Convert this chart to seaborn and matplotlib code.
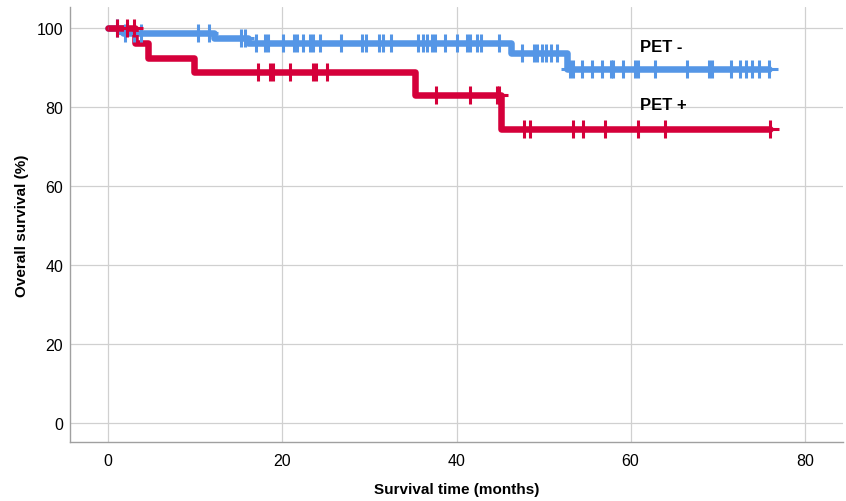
import matplotlib
matplotlib.use("Agg")
import matplotlib.pyplot as plt
import numpy as np
import pandas as pd
import seaborn as sns

# PET - group: step times (months) and survival level (%) after each step
neg_times = [0, 1.7, 12.1, 16.1, 46.3, 52.7]
neg_surv = [100, 98.8, 97.5, 96.3, 93.8, 89.6]
neg_end = 75.9
neg_censor = [1.0, 1.9, 2.9, 3.8, 10.3, 11.6, 15.3, 15.7,
              17.0, 18.0, 18.3, 20.1, 21.3, 21.7, 22.4, 23.2, 23.5, 24.3,
              26.7, 29.2, 29.6, 31.1, 31.5, 32.5, 35.6, 36.1, 36.6, 37.2,
              37.5, 38.7, 40.0, 41.2, 41.6, 42.4, 42.8, 44.9,
              47.5, 48.9, 49.3, 49.8, 50.3, 50.9, 51.5,
              53.0, 53.4, 54.4, 55.6, 56.7, 57.7, 58.0, 59.1, 60.5, 60.8,
              62.8, 66.5, 69.0, 69.4, 71.5, 72.6, 73.3, 74.0, 74.8, 75.9]

# PET + group
pos_times = [0, 3.1, 4.6, 9.8, 35.2, 45.1]
pos_surv = [100, 96.3, 92.6, 88.9, 83.1, 74.5]
pos_end = 76.0
pos_censor = [1.0, 2.2, 2.9, 17.2, 18.6, 18.9, 20.9, 23.5, 23.9, 25.1,
              37.7, 41.5, 44.6, 44.9, 47.8, 48.4, 53.4, 54.5, 57.1, 60.8,
              64.0, 76.0]

x_ticks = [0, 20, 40, 60, 80]
y_ticks = [0, 20, 40, 60, 80, 100]

blue = "#5596e6"
red = "#d5003a"


def curve(times, surv, end):
    return pd.DataFrame({"time": list(times) + [end],
                         "surv": list(surv) + [surv[-1]]})


def censor_points(times, surv, censor):
    idx = np.searchsorted(times, censor, side="right") - 1
    return pd.DataFrame({"time": censor, "surv": np.array(surv)[idx]})


sns.set_theme(style="whitegrid")
plt.rcParams["font.family"] = ["Liberation Sans", "DejaVu Sans"]
plt.rcParams["text.color"] = "black"
plt.rcParams["axes.labelcolor"] = "black"

fig = plt.figure(figsize=(8.46, 5.02), dpi=100)
ax = fig.add_axes([0.0827, 0.1175, 0.9138, 0.8659])

for times, surv, end, cens, col in [
        (neg_times, neg_surv, neg_end, neg_censor, blue),
        (pos_times, pos_surv, pos_end, pos_censor, red)]:
    sns.lineplot(data=curve(times, surv, end), x="time", y="surv",
                 drawstyle="steps-post", estimator=None, color=col,
                 linewidth=4.7, ax=ax)
    sns.scatterplot(data=censor_points(times, surv, cens), x="time", y="surv",
                    marker="+", s=150, linewidth=2.2, color=col, ax=ax,
                    zorder=3)

ax.text(61.1, 95.4, "PET -", fontsize=12, fontweight="bold", va="center", ha="left")
ax.text(61.1, 80.8, "PET +", fontsize=12, fontweight="bold", va="center", ha="left")

ax.set_xlim(-4.4, 84.4)
ax.set_ylim(-4.7, 105.3)
ax.set_xticks(x_ticks)
ax.set_yticks(y_ticks)
ax.grid(True, color="#d0d0d0", linewidth=0.9)
ax.tick_params(length=0, labelsize=11.5, colors="black")
ax.tick_params(axis="x", pad=8)
ax.tick_params(axis="y", pad=5)

for side in ["top", "right"]:
    ax.spines[side].set_visible(False)
for side in ["left", "bottom"]:
    ax.spines[side].set_color("#a0a0a0")
    ax.spines[side].set_linewidth(1.0)

ax.set_xlabel("Survival time (months)", fontsize=11, fontweight="bold", labelpad=10)
ax.set_ylabel("Overall survival (%)", fontsize=11, fontweight="bold", labelpad=5)

fig.savefig("out.png", dpi=100)
